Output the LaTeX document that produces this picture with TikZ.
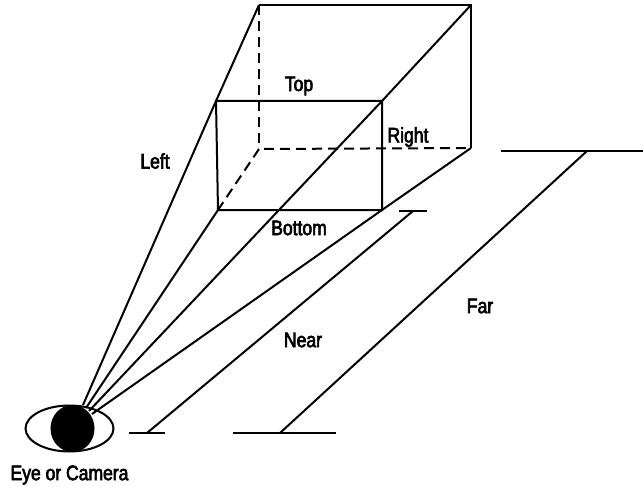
\documentclass[tikz,border=0pt]{standalone}
\usepackage{fontspec}
\setmainfont{Liberation Sans}[FakeStretch=0.835,FakeBold=3]
\usetikzlibrary{positioning,calc,shapes.geometric}

\begin{document}
\begin{tikzpicture}[
  x=1pt, y=-1pt,
  edge/.style={draw, line width=2pt},
  hidden/.style={edge, dash pattern=on 10pt off 6pt},
  lab/.style={font=\fontsize{21}{23}\selectfont, inner sep=0pt},
]
\useasboundingbox (0,0) rectangle (643,487);

% far face
\coordinate (ftl) at (259,5);
\coordinate (ftr) at (471,5);
\coordinate (fbr) at (471,148);
\coordinate (fbl) at (259,149);
% near face
\coordinate (ntl) at (216,101);
\coordinate (ntr) at (382,101);
\coordinate (nbr) at (382,210);
\coordinate (nbl) at (218,210);
% where the rays leave the eye
\coordinate (e1) at (83,405);
\coordinate (e2) at (86,408);
\coordinate (e3) at (89,411);
\coordinate (e4) at (92,414);

\draw[edge] (ftl) -- (ftr) -- (fbr);
\draw[hidden] (ftl) -- (fbl);
\draw[hidden] (fbl) ++(5,0) -- (fbr);
\draw[hidden] (fbl) -- (nbl);
\draw[edge] (ntl) -- (ntr) -- (nbr) -- (nbl) -- cycle;

% rays
\draw[edge] (e1) -- (ntl) -- (ftl);
\draw[edge] (e2) -- (nbl);
\draw[edge] (e3) -- (ntr) -- (ftr);
\draw[edge] (e4) -- (nbr) -- (fbr);

% eye
\node[edge, ellipse, minimum width=88pt, minimum height=46pt, inner sep=0pt] (eye) at (69.5,428.5) {};
\node[edge, fill=black, ellipse, minimum width=42pt, minimum height=45pt, inner sep=0pt] (pupil) at (72.5,428.5) {};

% near and far planes
\coordinate (n1) at (129,433);
\coordinate (n2) at (165,433);
\coordinate (n3) at (399,211);
\coordinate (n4) at (427,211);
\coordinate (f1) at (233,433);
\coordinate (f2) at (336,433);
\coordinate (f3) at (501,151);
\coordinate (f4) at (643,151);
\draw[edge] (n1) -- (n2);
\draw[edge] (n3) -- (n4);
\draw[edge] (f1) -- (f2);
\draw[edge] (f3) -- (f4);
\draw[edge] ($(n1)!0.5!(n2)$) -- ($(n3)!0.5!(n4)$);
\draw[edge] (280,433) -- (587,151);

% labels
\node[lab] (lleft) at (155,161) {Left};
\node[lab] (ltop) at (299,86) {Top};
\node[lab] (lright) at (408,137) {Right};
\node[lab] (lbottom) at (299,228) {Bottom};
\node[lab] (lnear) at (303,340) {Near};
\node[lab] (lfar) at (480,306) {Far};
\node[lab] (leye) at (69.5,475) {Eye or Camera};
\end{tikzpicture}
\end{document}
